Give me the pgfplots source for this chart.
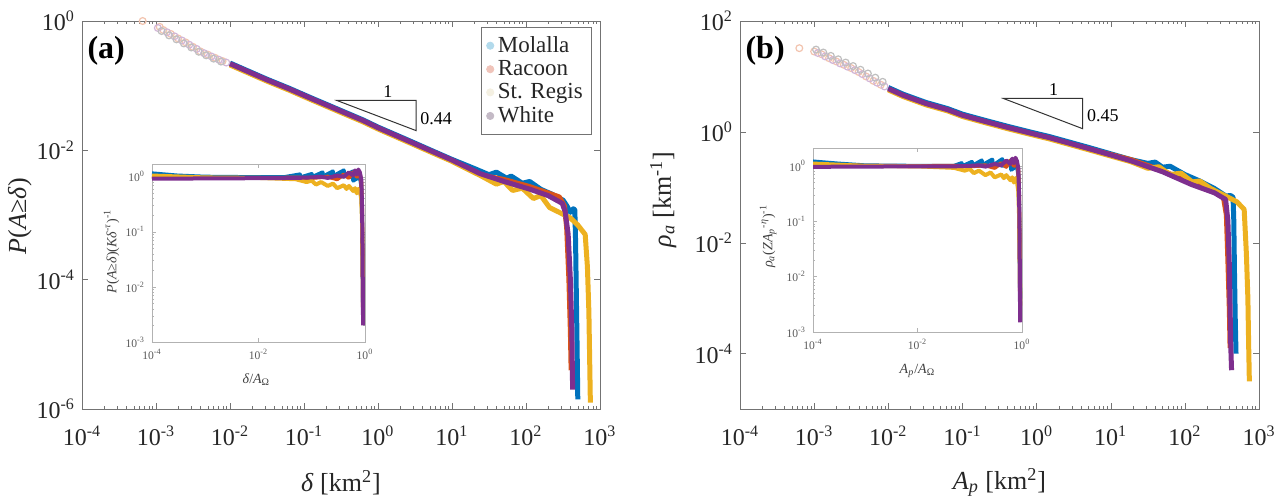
\documentclass[border=0pt]{standalone}
\usepackage{fontspec}
\setmainfont{Liberation Serif}
\usepackage{pgfplots}
\pgfplotsset{compat=1.18}

\definecolor{mblue}{RGB}{0,114,189}
\definecolor{mred}{RGB}{217,83,25}
\definecolor{myellow}{RGB}{237,177,32}
\definecolor{mpurple}{RGB}{126,47,142}
\definecolor{lblue}{RGB}{178,218,236}
\definecolor{lred}{RGB}{240,196,186}
\definecolor{lyellow}{RGB}{244,240,226}
\definecolor{lpurple}{RGB}{196,186,198}

\newcommand{\tp}[1]{10\textsuperscript{#1}}

\begin{document}
\begin{tikzpicture}
\useasboundingbox (0,0) rectangle (640.5pt,247.5pt);

% ---------------- panel (a)
\begin{loglogaxis}[scale only axis, at={(41pt,43pt)}, anchor=south west,
  width=259pt, height=194pt,
  xmin=1e-4, xmax=1e3, ymin=1e-6, ymax=1,
  axis line style={black!55}, tick style={black!55},
  major tick length=3pt, minor tick length=1.5pt,
  tick label style={font=\fontsize{12}{12}\selectfont, text=black!85},
  xticklabel style={yshift=-5pt},
  label style={font=\fontsize{13}{13}\selectfont, text=black!85},
  xtick={1e-4,1e-3,1e-2,1e-1,1,1e1,1e2,1e3},
  xticklabels={\tp{-4},\tp{-3},\tp{-2},\tp{-1},\tp{0},\tp{1},\tp{2},\tp{3}},
  ytick={1e-6,1e-4,1e-2,1}, yticklabels={\tp{-6},\tp{-4},\tp{-2},\tp{0}},
  xlabel={\textit{δ} [km\textsuperscript{2}]},
  ylabel={\textit{P}(\textit{A}≥\textit{δ})},
  xlabel style={at={(axis description cs:0.5,-0.19)}, anchor=center},
  ylabel style={at={(axis description cs:-0.12,0.497)}, anchor=center},
  legend style={at={(0.985,0.985)}, anchor=north east, draw=black!55,
    font=\fontsize{11.5}{11.5}\selectfont, text=black!85, inner sep=2.5pt, row sep=-1.5pt},
  legend cell align=left,
]
\addlegendimage{only marks, mark=*, mark size=1.8pt, color=lblue}
\addlegendentry{Molalla}
\addlegendimage{only marks, mark=*, mark size=1.8pt, color=lred}
\addlegendentry{Racoon}
\addlegendimage{only marks, mark=*, mark size=1.8pt, color=lyellow}
\addlegendentry{St. Regis}
\addlegendimage{only marks, mark=*, mark size=1.8pt, color=lpurple}
\addlegendentry{White}

\addplot[only marks, mark=o, mark size=1.7pt, line width=0.6pt, draw=mred!35, forget plot] coordinates {
 (6.607e-4,1) (0.001122,0.8128) (0.001259,0.7244) (0.001585,0.631)
 (0.001995,0.537) (0.002512,0.4677) (0.003162,0.3981) (0.003981,0.3388)
 (0.005012,0.302) (0.00631,0.2692) (0.007943,0.2399)};
\addplot[only marks, mark=o, mark size=1.7pt, line width=0.6pt, draw=mpurple!35, forget plot] coordinates {
 (0.001059,0.78) (0.00141,0.67) (0.00178,0.58) (0.00224,0.50)
 (0.00282,0.43) (0.00355,0.37) (0.00447,0.318) (0.00562,0.283) (0.00708,0.252) (0.0089,0.228)};
\addplot[only marks, mark=o, mark size=1.7pt, line width=0.6pt, draw=black!25, forget plot] coordinates {
 (0.00119,0.70) (0.0015,0.60) (0.00189,0.52) (0.00238,0.45)
 (0.003,0.39) (0.00378,0.335) (0.00476,0.295) (0.006,0.262) (0.00755,0.236)};

\addplot[mblue, line width=2.5pt, line join=round, forget plot] coordinates {
 (0.01,0.2239) (0.01585,0.1778) (0.03162,0.1259) (0.0631,0.0912)
 (0.1259,0.0646) (0.2951,0.0427) (0.631,0.0295) (1,0.0229)
 (2.512,0.0145) (5.012,0.01023) (10,0.00724) (19.95,0.00525)
 (31.62,0.0042) (39.81,0.0046) (54.95,0.0037) (63.1,0.0040)
 (89.13,0.0031) (112.2,0.0033) (158.5,0.0025) (223.9,0.0021)
 (316.2,0.0017) (354.8,0.0014) (398.1,0.0011) (436.5,0.00125)
 (457.1,0.0012) (467.7,3.981e-4) (478.6,6.31e-5) (489.8,1e-5) (501.2,1.413e-6)};
\addplot[mred, line width=2.5pt, line join=round, forget plot] coordinates {
 (0.01,0.2138) (0.01585,0.1698) (0.03162,0.1202) (0.0631,0.0871)
 (0.1259,0.0617) (0.2951,0.0407) (0.631,0.0282) (1,0.0219)
 (2.512,0.0138) (5.012,0.00977) (10,0.00692) (23.99,0.004169)
 (50.12,0.003548) (112.2,0.002754) (199.5,0.002188) (281.8,0.001905)
 (331.1,0.00138) (354.8,6.31e-4) (380.2,1e-4) (398.1,1.585e-5) (407.4,3.981e-6)};
\addplot[myellow, line width=2.5pt, line join=round, forget plot] coordinates {
 (0.01,0.2089) (0.01585,0.166) (0.03162,0.1175) (0.0631,0.0851)
 (0.1259,0.0603) (0.2951,0.0398) (0.631,0.0275) (1,0.0214)
 (2.512,0.0135) (5.012,0.00955) (10,0.00676) (23.99,0.0041)
 (39.81,0.0030) (50.12,0.0033) (66.07,0.0024) (89.13,0.0026)
 (125.9,0.0018) (158.5,0.0020) (208.9,0.0013) (281.8,0.0011)
 (398.1,9e-4) (501.2,7e-4) (631,5e-4) (676.1,1.585e-4) (707.9,3.162e-5)
 (724.4,6.31e-6) (741.3,1.259e-6)};
\addplot[mpurple, line width=2.5pt, line join=round, forget plot] coordinates {
 (0.01,0.2188) (0.01585,0.1738) (0.03162,0.1230) (0.0631,0.08913)
 (0.1259,0.0631) (0.2951,0.04169) (0.631,0.02884) (1,0.02239)
 (2.512,0.01413) (5.012,0.01) (10,0.007079) (23.99,0.004365)
 (50.12,0.003311) (112.2,0.002512) (199.5,0.001995) (309,0.001514)
 (338.8,0.001122) (371.5,5.012e-4) (398.1,1e-4) (416.9,1.585e-5) (426.6,1.995e-6)};

\draw[black!80, line width=0.5pt] (axis cs:0.279,0.059) -- (axis cs:3.27,0.059)
  -- (axis cs:3.27,0.0202) -- cycle;
\node[font=\fontsize{9}{9}\selectfont, anchor=south, inner sep=1.5pt] at (axis cs:1.36,0.059) {1};
\node[font=\fontsize{9}{9}\selectfont, anchor=west, inner sep=2pt] at (axis cs:3.27,0.031) {0.44};
\node[font=\fontsize{16}{16}\selectfont\bfseries, anchor=west, inner sep=0pt]
  at (axis description cs:0.01,0.922) {(a)};
\end{loglogaxis}

% ---------------- inset (a)
\begin{loglogaxis}[scale only axis, at={(76pt,76.5pt)}, anchor=south west,
  width=106.5pt, height=89pt,
  xmin=1e-4, xmax=1, ymin=1e-3, ymax=1.7,
  axis background/.style={fill=white},
  axis line style={black!30}, tick style={black!30},
  major tick length=2pt, minor tick length=1pt,
  tick label style={font=\fontsize{5.8}{6}\selectfont, text=black!65},
  label style={font=\fontsize{7}{7}\selectfont, text=black!75},
  xtick={1e-4,1e-2,1}, xticklabels={\tp{-4},\tp{-2},\tp{0}},
  ytick={1e-3,1e-2,1e-1,1}, yticklabels={\tp{-3},\tp{-2},\tp{-1},\tp{0}},
  xlabel={\textit{δ}/\textit{A}\textsubscript{Ω}},
  ylabel={\textit{P}(\textit{A}≥\textit{δ})(\textit{Kδ}\textsuperscript{-\textit{τ}})\textsuperscript{-1}},
  xlabel style={at={(axis description cs:0.49,-0.21)}, anchor=center},
  ylabel style={at={(axis description cs:-0.19,0.51)}, anchor=center},
]
\addplot[mblue, line width=2pt, line join=round] coordinates {
 (1e-4,1.15) (3e-4,1.05) (1e-3,1.0) (0.01,0.98) (0.03,0.98) (0.06,1.1) (0.061,0.97)
 (0.1,1.12) (0.101,0.98) (0.16,1.2) (0.161,1.0) (0.25,1.25) (0.251,1.02)
 (0.4,1.3) (0.401,1.0) (0.6,1.25) (0.601,0.85) (0.8,1.0) (0.85,0.7)
 (0.88,0.2) (0.9,0.03) (0.92,0.004)};
\addplot[mred, line width=2pt, line join=round] coordinates {
 (1e-4,1.0) (1e-3,0.95) (0.01,0.95) (0.05,0.96) (0.1,0.95) (0.2,1.0)
 (0.3,0.9) (0.4,1.1) (0.5,0.95) (0.6,1.2) (0.7,1.0) (0.75,1.25) (0.8,1.1)
 (0.85,0.8) (0.88,0.25) (0.9,0.04) (0.92,0.003)};
\addplot[myellow, line width=2pt, line join=round] coordinates {
 (1e-4,1.05) (1e-3,0.97) (0.01,0.95) (0.05,0.9) (0.08,0.8) (0.1,0.85)
 (0.12,0.72) (0.15,0.8) (0.2,0.68) (0.25,0.75) (0.3,0.62) (0.4,0.7)
 (0.45,0.6) (0.5,0.68) (0.6,0.55) (0.65,0.62) (0.7,0.5) (0.75,0.6)
 (0.8,0.55) (0.85,0.4) (0.88,0.15) (0.9,0.03) (0.92,0.005)};
\addplot[mpurple, line width=2pt, line join=round] coordinates {
 (1e-4,0.92) (1e-3,0.93) (0.01,0.94) (0.05,0.95) (0.1,0.97) (0.15,1.0)
 (0.2,0.95) (0.3,1.05) (0.4,1.0) (0.5,1.2) (0.6,1.05) (0.65,1.3) (0.7,1.1)
 (0.75,1.35) (0.8,1.2) (0.85,0.9) (0.88,0.3) (0.9,0.05) (0.91,0.01) (0.92,0.002)};
\end{loglogaxis}

% ---------------- panel (b)
\begin{loglogaxis}[scale only axis, at={(370pt,43pt)}, anchor=south west,
  width=259.5pt, height=194pt,
  xmin=1e-4, xmax=1e3, ymin=1e-5, ymax=1e2,
  axis line style={black!55}, tick style={black!55},
  major tick length=3pt, minor tick length=1.5pt,
  tick label style={font=\fontsize{12}{12}\selectfont, text=black!85},
  xticklabel style={yshift=-5pt},
  label style={font=\fontsize{13}{13}\selectfont, text=black!85},
  xtick={1e-4,1e-3,1e-2,1e-1,1,1e1,1e2,1e3},
  xticklabels={\tp{-4},\tp{-3},\tp{-2},\tp{-1},\tp{0},\tp{1},\tp{2},\tp{3}},
  ytick={1e-4,1e-2,1,1e2}, yticklabels={\tp{-4},\tp{-2},\tp{0},\tp{2}},
  xlabel={\textit{A}\textsubscript{\textit{p}} [km\textsuperscript{2}]},
  ylabel={\textit{ρ}\textsubscript{\textit{a}} [km\textsuperscript{-1}]},
  xlabel style={at={(axis description cs:0.5,-0.19)}, anchor=center},
  ylabel style={at={(axis description cs:-0.148,0.54)}, anchor=center},
]
\addplot[only marks, mark=o, mark size=1.7pt, line width=0.6pt, draw=mred!35] coordinates {
 (6.31e-4,32.36) (0.001,28.18) (0.001259,25.12) (0.001585,21.38)
 (0.001995,18.62) (0.002512,16.22) (0.003162,14.13) (0.003981,12.02)
 (0.005012,10) (0.00631,8.318) (0.007943,7.079)};
\addplot[only marks, mark=o, mark size=1.7pt, line width=0.6pt, draw=mpurple!35] coordinates {
 (0.00112,26.5) (0.00141,23.0) (0.00178,19.8) (0.00224,17.2)
 (0.00282,15.0) (0.00355,13.0) (0.00447,11.0) (0.00562,9.2) (0.00708,7.7) (0.0089,6.6)};
\addplot[only marks, mark=o, mark size=1.7pt, line width=0.6pt, draw=black!25] coordinates {
 (0.00106,30.5) (0.00133,27.0) (0.00168,23.5) (0.00211,20.4)
 (0.00266,17.8) (0.00335,15.4) (0.00422,13.2) (0.00531,11.3) (0.00668,9.5) (0.0084,8.0)};

\addplot[mblue, line width=2.5pt, line join=round] coordinates {
 (0.01,6.31) (0.01585,4.786) (0.03236,3.388) (0.0631,2.63) (0.1,2.089)
 (0.1995,1.622) (0.4074,1.259) (1,0.9333) (1.445,0.8318) (5.012,0.5248)
 (18.62,0.3162) (31.62,0.27) (39.81,0.285) (50.12,0.23) (63.1,0.24)
 (100,0.17) (158.5,0.13) (251.2,0.095) (354.8,0.07) (416.9,0.0708)
 (446.7,0.0661) (457.1,0.02512) (467.7,0.002512) (478.6,3.981e-4) (489.8,1e-4)};
\addplot[mred, line width=2.5pt, line join=round] coordinates {
 (0.01,5.9) (0.01585,4.48) (0.03236,3.17) (0.0631,2.46) (0.1,1.955)
 (0.1995,1.518) (0.4074,1.178) (1,0.8735) (1.445,0.7784) (5.012,0.4912)
 (18.62,0.3162) (50.12,0.1995) (123,0.1175) (251.2,0.08318) (331.1,0.06607)
 (363.1,0.03162) (380.2,0.005012) (398.1,6.31e-4) (407.4,1.259e-4)};
\addplot[myellow, line width=2.5pt, line join=round] coordinates {
 (0.01,5.72) (0.01585,4.34) (0.03236,3.07) (0.0631,2.39) (0.1,1.895)
 (0.1995,1.472) (0.4074,1.142) (1,0.8467) (1.445,0.7546) (5.012,0.4762)
 (18.62,0.29) (31.62,0.22) (44.67,0.235) (63.1,0.17) (89.13,0.18)
 (125.9,0.125) (158.5,0.13) (223.9,0.095) (316.2,0.075) (501.2,0.055)
 (631,0.04) (676.1,0.00631) (707.9,0.001) (724.4,1.585e-4) (741.3,3.162e-5)};
\addplot[mpurple, line width=2.5pt, line join=round] coordinates {
 (0.01,6.026) (0.01585,4.571) (0.03236,3.236) (0.0631,2.512) (0.1,1.995)
 (0.1995,1.549) (0.4074,1.202) (1,0.8913) (1.445,0.7943) (5.012,0.5012)
 (18.62,0.302) (50.12,0.1905) (123,0.1122) (251.2,0.07943) (354.8,0.06026)
 (380.2,0.02512) (398.1,0.003981) (407.4,6.31e-4) (416.9,1.259e-4) (426.6,5.012e-5)};

\draw[black!80, line width=0.5pt] (axis cs:0.358,4.0) -- (axis cs:4.19,4.0)
  -- (axis cs:4.19,1.14) -- cycle;
\node[font=\fontsize{9}{9}\selectfont, anchor=south, inner sep=1.5pt] at (axis cs:1.7,4.0) {1};
\node[font=\fontsize{9}{9}\selectfont, anchor=west, inner sep=2pt] at (axis cs:4.19,1.97) {0.45};
\node[font=\fontsize{16}{16}\selectfont\bfseries, anchor=west, inner sep=0pt]
  at (axis description cs:0.01,0.922) {(b)};
\end{loglogaxis}

% ---------------- inset (b)
\begin{loglogaxis}[scale only axis, at={(406.5pt,81.5pt)}, anchor=south west,
  width=104.5pt, height=92pt,
  xmin=1e-4, xmax=1, ymin=1e-3, ymax=2.1,
  axis background/.style={fill=white},
  axis line style={black!30}, tick style={black!30},
  major tick length=2pt, minor tick length=1pt,
  tick label style={font=\fontsize{5.8}{6}\selectfont, text=black!65},
  label style={font=\fontsize{7}{7}\selectfont, text=black!75},
  xtick={1e-4,1e-2,1}, xticklabels={\tp{-4},\tp{-2},\tp{0}},
  ytick={1e-3,1e-2,1e-1,1}, yticklabels={\tp{-3},\tp{-2},\tp{-1},\tp{0}},
  xlabel={\textit{A}\textsubscript{\textit{p}}/\textit{A}\textsubscript{Ω}},
  ylabel={\textit{ρ}\textsubscript{\textit{a}}(\textit{ZA}\textsubscript{\textit{p}}\textsuperscript{-\textit{η}})\textsuperscript{-1}},
  xlabel style={at={(axis description cs:0.5,-0.21)}, anchor=center},
  ylabel style={at={(axis description cs:-0.215,0.52)}, anchor=center},
]
\addplot[mblue, line width=2pt, line join=round] coordinates {
 (1e-4,1.2) (3e-4,1.1) (1e-3,1.02) (0.01,1.0) (0.05,1.0) (0.07,1.12) (0.071,0.98)
 (0.11,1.18) (0.111,1.0) (0.17,1.25) (0.171,1.02) (0.27,1.3) (0.271,1.0)
 (0.42,1.32) (0.421,1.0) (0.62,1.25) (0.621,0.85) (0.8,1.0) (0.85,0.7)
 (0.88,0.2) (0.9,0.03) (0.92,0.004)};
\addplot[mred, line width=2pt, line join=round] coordinates {
 (1e-4,1.05) (1e-3,1.0) (0.01,0.99) (0.05,1.0) (0.1,0.98) (0.2,1.02)
 (0.3,0.92) (0.4,1.12) (0.5,0.96) (0.6,1.25) (0.7,1.0) (0.75,1.3) (0.8,1.1)
 (0.85,0.8) (0.88,0.25) (0.9,0.04) (0.92,0.003)};
\addplot[myellow, line width=2pt, line join=round] coordinates {
 (1e-4,1.1) (1e-3,1.0) (0.01,0.98) (0.05,0.92) (0.08,0.82) (0.1,0.88)
 (0.12,0.74) (0.15,0.82) (0.2,0.68) (0.25,0.76) (0.3,0.62) (0.4,0.7)
 (0.45,0.6) (0.5,0.68) (0.6,0.55) (0.65,0.62) (0.7,0.5) (0.75,0.6)
 (0.8,0.52) (0.85,0.35) (0.88,0.12) (0.9,0.03) (0.92,0.005)};
\addplot[mpurple, line width=2pt, line join=round] coordinates {
 (1e-4,0.96) (1e-3,0.97) (0.01,0.98) (0.05,0.98) (0.1,1.0) (0.15,1.02)
 (0.2,0.97) (0.3,1.08) (0.4,1.02) (0.5,1.25) (0.6,1.08) (0.65,1.35) (0.7,1.12)
 (0.75,1.4) (0.8,1.22) (0.85,0.9) (0.88,0.3) (0.9,0.05) (0.91,0.01) (0.92,0.0015)};
\end{loglogaxis}
\end{tikzpicture}
\end{document}
